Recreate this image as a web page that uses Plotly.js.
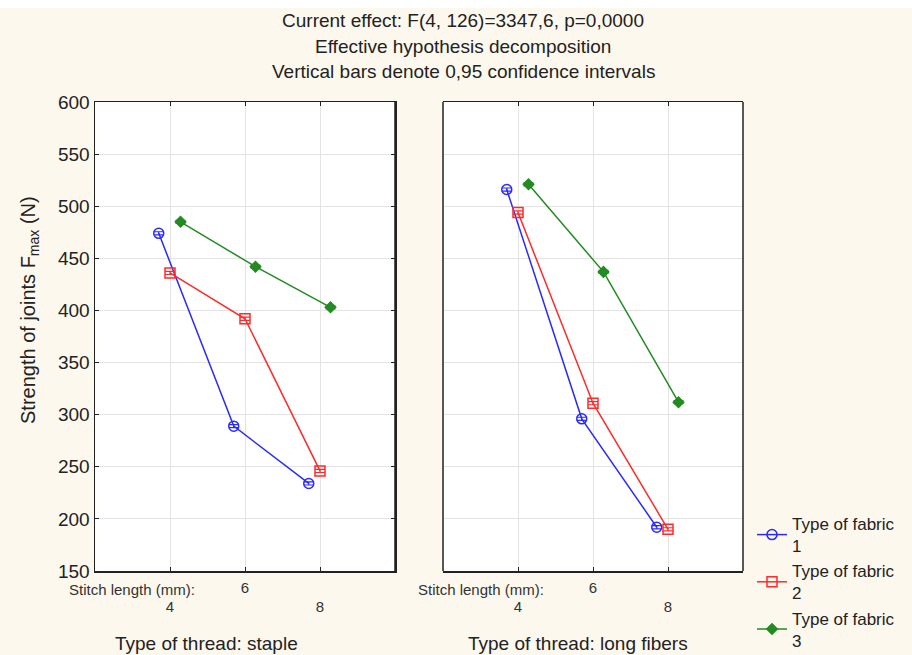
<!DOCTYPE html>
<html>
<head>
<meta charset="utf-8">
<script src="https://cdn.plot.ly/plotly-3.0.1.min.js"></script>
<style>html,body{margin:0;padding:0;background:#fdf8ee;}</style>
</head>
<body>
<div id="chart" style="width:912px;height:655px;"></div>
<script>
// ---- data ----
const stitchLengths = [4, 6, 8];
const fabricNames = ['Type of fabric<br>1', 'Type of fabric<br>2', 'Type of fabric<br>3'];
const stapleFabric1 = [474, 289, 234];
const stapleFabric2 = [436, 392, 246];
const stapleFabric3 = [485, 442, 403];
const longFabric1 = [516, 296, 192];
const longFabric2 = [494, 311, 190];
const longFabric3 = [521, 437, 312];
const yTicks = [150, 200, 250, 300, 350, 400, 450, 500, 550, 600];

// ---- styles ----
const colors = ['#2a2aff', '#ff2a2a', '#228b22'];
const symbols = ['circle-open', 'square-open', 'diamond'];
const sizes = [10, 10, 8];
const shifts = [-0.3, 0, 0.28];
const FONT = 'Liberation Sans, Arial, sans-serif';

const panels = [
  {axis: 'x', series: [stapleFabric1, stapleFabric2, stapleFabric3]},
  {axis: 'x2', series: [longFabric1, longFabric2, longFabric3]}
];

const traces = [];
panels.forEach((p, pi) => {
  p.series.forEach((vals, fi) => {
    traces.push({
      type: 'scatter', mode: 'lines+markers',
      x: stitchLengths.map(v => v + shifts[fi]),
      y: vals,
      xaxis: p.axis, yaxis: 'y',
      name: fabricNames[fi],
      legendgroup: 'f' + fi,
      showlegend: pi === 0,
      line: {color: colors[fi], width: 1.5},
      marker: {symbol: symbols[fi], size: sizes[fi], color: colors[fi], line: {color: colors[fi], width: 1.5}},
      error_y: {type: 'constant', value: 1.5, color: colors[fi], thickness: 1.2, width: 5}
    });
  });
});

const xCommon = {
  range: [2, 10], tickvals: stitchLengths,
  ticktext: ['<br>4', '6', '<br>8'],
  showgrid: true, gridcolor: '#e4e4e4', gridwidth: 1,
  zeroline: false, showline: true, linecolor: '#222', linewidth: 1.5, mirror: 'ticks',
  ticks: 'inside', ticklen: 4, tickcolor: '#222', automargin: false,
  ticklabelstandoff: 2,
  tickfont: {family: FONT, size: 15, color: '#333'}
};

const layout = {
  width: 912, height: 655,
  paper_bgcolor: '#fdf8ee', plot_bgcolor: '#ffffff',
  margin: {l: 95, r: 169, t: 102, b: 84},
  font: {family: FONT, color: '#222'},
  title: {
    text: 'Current effect: F(4, 126)=3347,6, p=0,0000',
    x: 463 / 912, xanchor: 'center', y: 1 - 20 / 655, yanchor: 'middle',
    font: {size: 19, color: '#222'}
  },
  xaxis: Object.assign({}, xCommon, {domain: [0, 300 / 648], anchor: 'y'}),
  xaxis2: Object.assign({}, xCommon, {domain: [348 / 648, 1], anchor: 'y'}),
  yaxis: {
    range: [150, 600], tickvals: yTicks, automargin: false,
    showgrid: true, gridcolor: '#e4e4e4',
    zeroline: false, showline: true, linecolor: '#222', linewidth: 1.5, mirror: 'ticks',
    ticks: 'inside', ticklen: 4, tickcolor: '#222',
    tickfont: {size: 19, color: '#222'}
  },
  showlegend: true,
  legend: {
    xref: 'container', yref: 'container',
    x: 752 / 912, y: 1 - 506 / 655, xanchor: 'left', yanchor: 'top',
    bgcolor: 'rgba(0,0,0,0)', font: {size: 17, color: '#222'},
    tracegroupgap: 0, itemwidth: 30
  },
  shapes: [
    {type: 'rect', xref: 'paper', yref: 'paper', x0: -95 / 648, x1: 817 / 648,
     y0: 1 + 94 / 469, y1: 1 + 102 / 469, fillcolor: '#ffffff', line: {width: 0}, layer: 'below'},
    {type: 'line', xref: 'x2 domain', yref: 'y domain', x0: 0, x1: 0, y0: 0, y1: 1, line: {color: '#222', width: 1.5}},
    {type: 'line', xref: 'x2 domain', yref: 'y domain', x0: 1, x1: 1, y0: 0, y1: 1, line: {color: '#222', width: 1.5}},
    {type: 'line', xref: 'x domain', yref: 'y domain', x0: 1, x1: 1, y0: 0, y1: 1, line: {color: '#222', width: 1.5}}
  ],
  annotations: [
    {text: 'Effective hypothesis decomposition', xref: 'paper', yref: 'paper',
     x: (463 - 95) / 648, y: 1 + (102 - 46) / 469, xanchor: 'center', yanchor: 'middle', showarrow: false,
     font: {size: 19, color: '#222'}},
    {text: 'Vertical bars denote 0,95 confidence intervals', xref: 'paper', yref: 'paper',
     x: (463 - 95) / 648, y: 1 + (102 - 72) / 469, xanchor: 'center', yanchor: 'middle', showarrow: false,
     font: {size: 19, color: '#222'}},
    {text: 'Strength of joints F<sub>max</sub> (N)', xref: 'paper', yref: 'paper', textangle: -90,
     x: (29 - 95) / 648, y: (571 - 310) / 469, xanchor: 'center', yanchor: 'middle', showarrow: false,
     font: {size: 20, color: '#222'}},
    {text: 'Stitch length (mm):', xref: 'paper', yref: 'paper',
     x: (132 - 95) / 648, y: -(589 - 571) / 469, xanchor: 'center', yanchor: 'middle', showarrow: false,
     font: {size: 15, color: '#333'}},
    {text: 'Stitch length (mm):', xref: 'paper', yref: 'paper',
     x: (481 - 95) / 648, y: -(589 - 571) / 469, xanchor: 'center', yanchor: 'middle', showarrow: false,
     font: {size: 15, color: '#333'}},
    {text: 'Type of thread: staple', xref: 'paper', yref: 'paper',
     x: (206 - 95) / 648, y: -(643 - 571) / 469, xanchor: 'center', yanchor: 'middle', showarrow: false,
     font: {size: 19, color: '#222'}},
    {text: 'Type of thread: long fibers', xref: 'paper', yref: 'paper',
     x: (578 - 95) / 648, y: -(643 - 571) / 469, xanchor: 'center', yanchor: 'middle', showarrow: false,
     font: {size: 19, color: '#222'}}
  ]
};

Plotly.newPlot('chart', traces, layout, {displayModeBar: false, staticPlot: true});
</script>
</body>
</html>
